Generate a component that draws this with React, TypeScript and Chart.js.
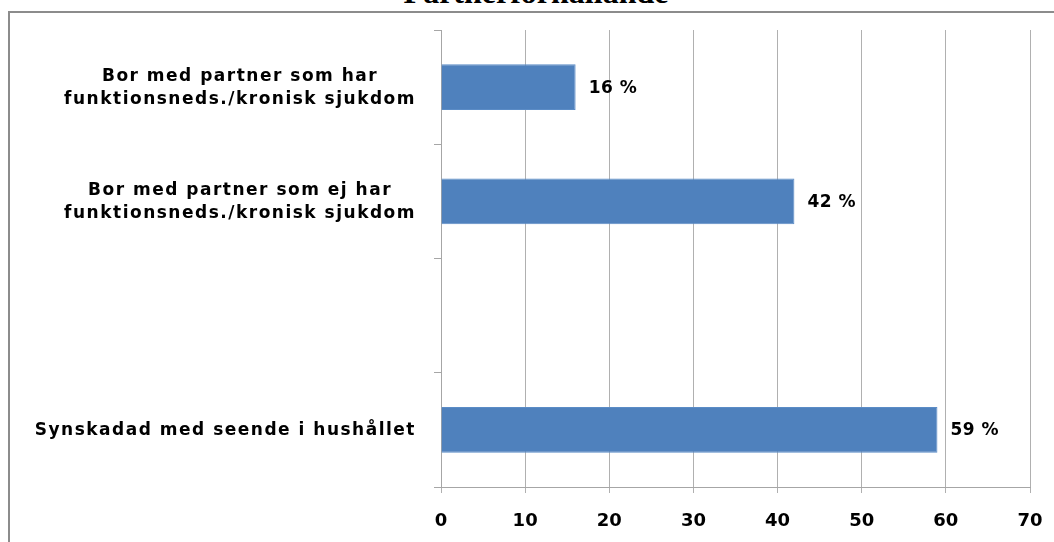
import React, { useEffect, useRef } from "react";
import { Chart, registerables } from "chart.js";

Chart.register(...registerables);

const TITLE = "Partnerförhållande";
const categories: string[][] = [
  ["Bor med partner som har", "funktionsneds./kronisk sjukdom"],
  ["Bor med partner som ej har", "funktionsneds./kronisk sjukdom"],
  [""],
  ["Synskadad med seende i hushållet"],
];
const values: (number | null)[] = [16, 42, null, 59];
const valueLabels: string[] = ["16 %", "42 %", "", "59 %"];
const xTicks: number[] = [0, 10, 20, 30, 40, 50, 60, 70];

const FONT = '"DejaVu Sans", sans-serif';

const labelPlugin = {
  id: "customLabels",
  afterDraw(chart: any) {
    const ctx = chart.ctx;
    const y = chart.scales.y;
    const x = chart.scales.x;
    const area = chart.chartArea;
    ctx.save();
    ctx.fillStyle = "#000";
    ctx.font = `bold 17px ${FONT}`;
    (ctx as any).letterSpacing = "1.5px";
    ctx.textBaseline = "middle";
    categories.forEach((lines, i) => {
      const cy = y.getPixelForValue(i) + 1;
      const widths = lines.map((l) => ctx.measureText(l).width);
      const maxW = Math.max(...widths);
      const right = area.left - 25;
      const cx = right - maxW / 2;
      const lh = 23;
      const startY = cy - ((lines.length - 1) * lh) / 2;
      ctx.textAlign = "center";
      lines.forEach((l, j) => {
        ctx.fillText(l, cx, startY + j * lh);
      });
    });
    ctx.textAlign = "left";
    ctx.font = `bold 17px ${FONT}`;
    (ctx as any).letterSpacing = "0.5px";
    values.forEach((v, i) => {
      if (v == null) return;
      const px = x.getPixelForValue(v);
      const cy = y.getPixelForValue(i) + 1;
      ctx.fillText(valueLabels[i], px + 13, cy);
    });
    ctx.restore();
  },
};

export default function App() {
  const ref = useRef<HTMLCanvasElement>(null);
  useEffect(() => {
    if (!ref.current) return;
    const chart = new Chart(ref.current, {
      type: "bar",
      data: {
        labels: categories.map((c) => c.join(" ")),
        datasets: [
          {
            data: values as any,
            backgroundColor: "#4f81bd",
            borderColor: "#5b8cc6",
            borderWidth: 1,
            barPercentage: 0.4,
            categoryPercentage: 1,
          },
        ],
      },
      options: {
        indexAxis: "y",
        animation: false,
        responsive: false,
        events: [],
        layout: { padding: { top: 30, right: 24, left: 0, bottom: 0 } },
        plugins: {
          legend: { display: false },
          title: { display: false },
          tooltip: { enabled: false },
        },
        scales: {
          y: {
            type: "category",
            offset: true,
            afterFit: (s: any) => {
              s.width = 441;
              s.paddingTop = 0;
              s.paddingBottom = 0;
            },
            grid: {
              display: true,
              drawOnChartArea: false,
              drawTicks: true,
              tickLength: 7,
              offset: true,
              color: "#a6a6a6",
            },
            border: { display: true, color: "#a6a6a6", width: 1 },
            ticks: { display: false },
          },
          x: {
            type: "linear",
            min: 0,
            max: 70,
            afterBuildTicks: (s: any) => {
              s.ticks = xTicks.map((v) => ({ value: v }));
            },
            afterFit: (s: any) => {
              s.height = 55;
              s.paddingLeft = 0;
              s.paddingRight = 0;
            },
            grid: {
              color: "#b0b0b0",
              tickLength: 6,
              drawTicks: true,
            },
            border: { display: true, color: "#a6a6a6", width: 1 },
            ticks: {
              color: "#000",
              font: { family: FONT, size: 18, weight: "bold" },
              padding: 18,
              maxRotation: 0,
              autoSkip: false,
            },
          },
        },
      },
      plugins: [labelPlugin],
    });
    return () => chart.destroy();
  }, []);

  return (
    <div
      style={{
        position: "fixed",
        left: 0,
        top: 0,
        width: 1054,
        height: 542,
        overflow: "hidden",
        background: "#fff",
      }}
    >
      <div
        style={{
          position: "absolute",
          left: 8,
          top: 11,
          width: 1100,
          height: 600,
          border: "2px solid #8c8c8c",
        }}
      />
      <div
        style={{
          position: "absolute",
          left: 0,
          width: 1072,
          top: -24,
          lineHeight: "32px",
          textAlign: "center",
          fontFamily: '"Liberation Serif", serif',
          fontWeight: "bold",
          fontSize: 32,
          color: "#000",
          whiteSpace: "nowrap",
        }}
      >
        {TITLE}
      </div>
      <canvas
        ref={ref}
        width={1054}
        height={542}
        style={{ position: "absolute", left: 0, top: 0, width: 1054, height: 542 }}
      />
    </div>
  );
}
